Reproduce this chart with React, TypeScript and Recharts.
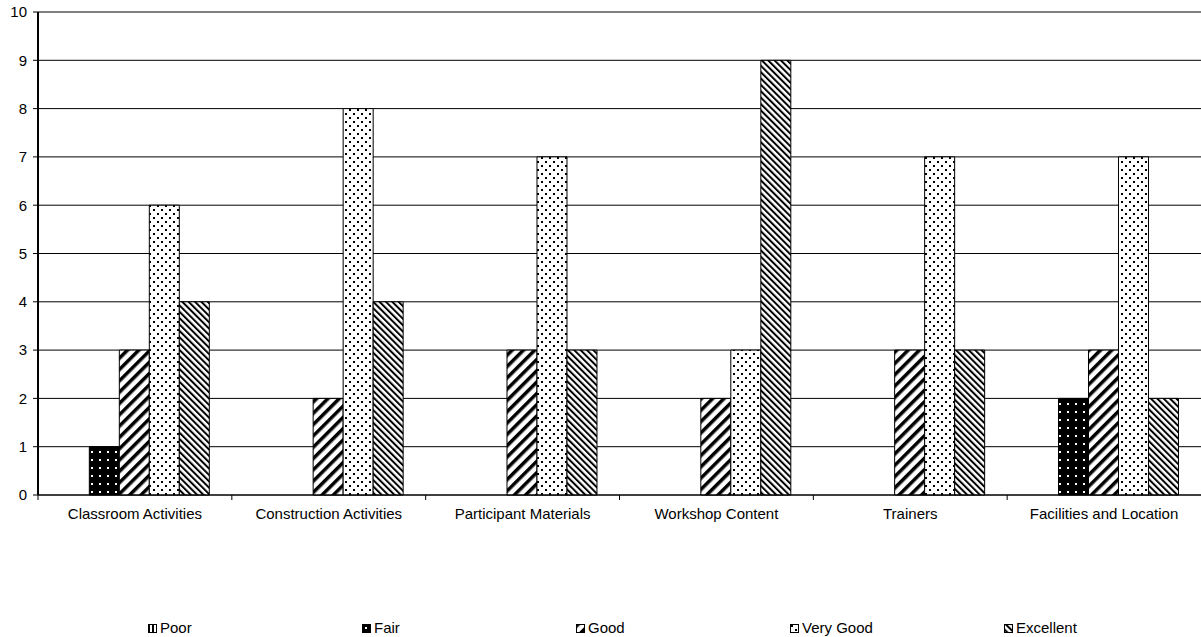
import React from "react";
import { BarChart, Bar, XAxis, YAxis, CartesianGrid, Legend } from "recharts";

const categories = [
  "Classroom Activities",
  "Construction Activities",
  "Participant Materials",
  "Workshop Content",
  "Trainers",
  "Facilities and Location",
];
const poor = [0, 0, 0, 0, 0, 0];
const fair = [1, 0, 0, 0, 0, 2];
const good = [3, 2, 3, 2, 3, 3];
const veryGood = [6, 8, 7, 3, 7, 7];
const excellent = [4, 4, 3, 9, 3, 2];
const yTicks = [0, 1, 2, 3, 4, 5, 6, 7, 8, 9, 10];
const seriesNames = ["Poor", "Fair", "Good", "Very Good", "Excellent"];
const seriesKeys = ["poor", "fair", "good", "veryGood", "excellent"];
const patternIds = ["pPoor", "pFair", "pGood", "pVeryGood", "pExcellent"];

const data = categories.map((name, i) => ({
  name,
  poor: poor[i],
  fair: fair[i],
  good: good[i],
  veryGood: veryGood[i],
  excellent: excellent[i],
}));

const FONT = "Liberation Sans, Arial, sans-serif";
const TICK_MARGIN = 13;

const Patterns = () => (
  <svg width={0} height={0} style={{ position: "absolute" }}>
    <defs>
      <pattern id="pPoor" width="4" height="4" patternUnits="userSpaceOnUse">
        <rect width="4" height="4" fill="#fff" />
        <rect x="0" y="0" width="2" height="4" fill="#000" />
      </pattern>
      <pattern id="pFair" width="8" height="8" patternUnits="userSpaceOnUse">
        <rect width="8" height="8" fill="#000" />
        <rect x="3" y="3" width="2" height="2" fill="#fff" />
      </pattern>
      <pattern id="pGood" width="8" height="8" patternUnits="userSpaceOnUse" patternTransform="rotate(45)">
        <rect width="8" height="8" fill="#fff" />
        <rect x="0" y="0" width="3.5" height="8" fill="#000" />
      </pattern>
      <pattern id="pVeryGood" width="8" height="8" patternUnits="userSpaceOnUse">
        <rect width="8" height="8" fill="#fff" />
        <rect x="1" y="1" width="2" height="2" fill="#000" />
        <rect x="5" y="5" width="2" height="2" fill="#000" />
      </pattern>
      <pattern id="pExcellent" width="4.5" height="4.5" patternUnits="userSpaceOnUse" patternTransform="rotate(-45)">
        <rect width="4.5" height="4.5" fill="#fff" />
        <rect x="0" y="0" width="2" height="4.5" fill="#000" />
      </pattern>
    </defs>
  </svg>
);

const CategoryTick = (props: any) => {
  const { x, y, payload, index } = props;
  const off = payload && typeof payload.offset === "number" ? payload.offset : 0;
  const axisY = y - TICK_MARGIN;
  return (
    <g>
      {off > 0 && index < categories.length - 1 && (
        <line x1={x + off} x2={x + off} y1={axisY} y2={axisY + 5} stroke="#000" strokeWidth={1} />
      )}
      {off > 0 && index === 0 && (
        <line x1={x - off} x2={x - off} y1={axisY} y2={axisY + 5} stroke="#000" strokeWidth={1} />
      )}
      <text x={x} y={y} dy="0.71em" textAnchor="middle" fill="#000" fontSize={15} fontFamily={FONT}>
        {payload.value}
      </text>
    </g>
  );
};

const LegendContent = () => (
  <div style={{ position: "relative", width: 1201, height: 18, fontFamily: FONT, fontSize: 15, lineHeight: "18px" }}>
    {seriesNames.map((n, i) => (
      <div key={n} style={{ position: "absolute", left: 148 + i * 214, top: 0, height: 18, display: "flex", alignItems: "center", color: "#000" }}>
        <svg width={9} height={9} style={{ marginRight: 3 }}>
          <rect x={0.5} y={0.5} width={8} height={8} fill={`url(#${patternIds[i]})`} stroke="#000" strokeWidth={1} />
        </svg>
        <span>{n}</span>
      </div>
    ))}
  </div>
);

export default function App() {
  return (
    <div style={{ position: "absolute", left: 0, top: 0, width: 1201, height: 637, background: "#fff" }}>
      <Patterns />
      <BarChart
        width={1201}
        height={637}
        data={data}
        margin={{ top: 12, right: 0, bottom: 0, left: 0 }}
        barGap={0}
        barCategoryGap="11%"
      >
        <CartesianGrid vertical={false} stroke="#000" strokeWidth={1} />
        <XAxis
          dataKey="name"
          height={124}
          tickSize={0}
          tickMargin={TICK_MARGIN}
          interval={0}
          axisLine={{ stroke: "#000", strokeWidth: 1 }}
          tick={<CategoryTick />}
        />
        <YAxis
          domain={[0, 10]}
          ticks={yTicks}
          interval={0}
          width={38}
          tickSize={5}
          tickMargin={6}
          axisLine={{ stroke: "#000", strokeWidth: 2 }}
          tickLine={{ stroke: "#000" }}
          tick={{ fill: "#000", fontSize: 15, fontFamily: FONT }}
        />
        <Legend verticalAlign="bottom" content={<LegendContent />} wrapperStyle={{ left: 0, bottom: 0, width: 1201, height: 18 }} />
        {seriesKeys.map((k, i) => (
          <Bar
            key={k}
            dataKey={k}
            name={seriesNames[i]}
            fill={`url(#${patternIds[i]})`}
            stroke="#000"
            strokeWidth={1}
            isAnimationActive={false}
          />
        ))}
      </BarChart>
    </div>
  );
}
